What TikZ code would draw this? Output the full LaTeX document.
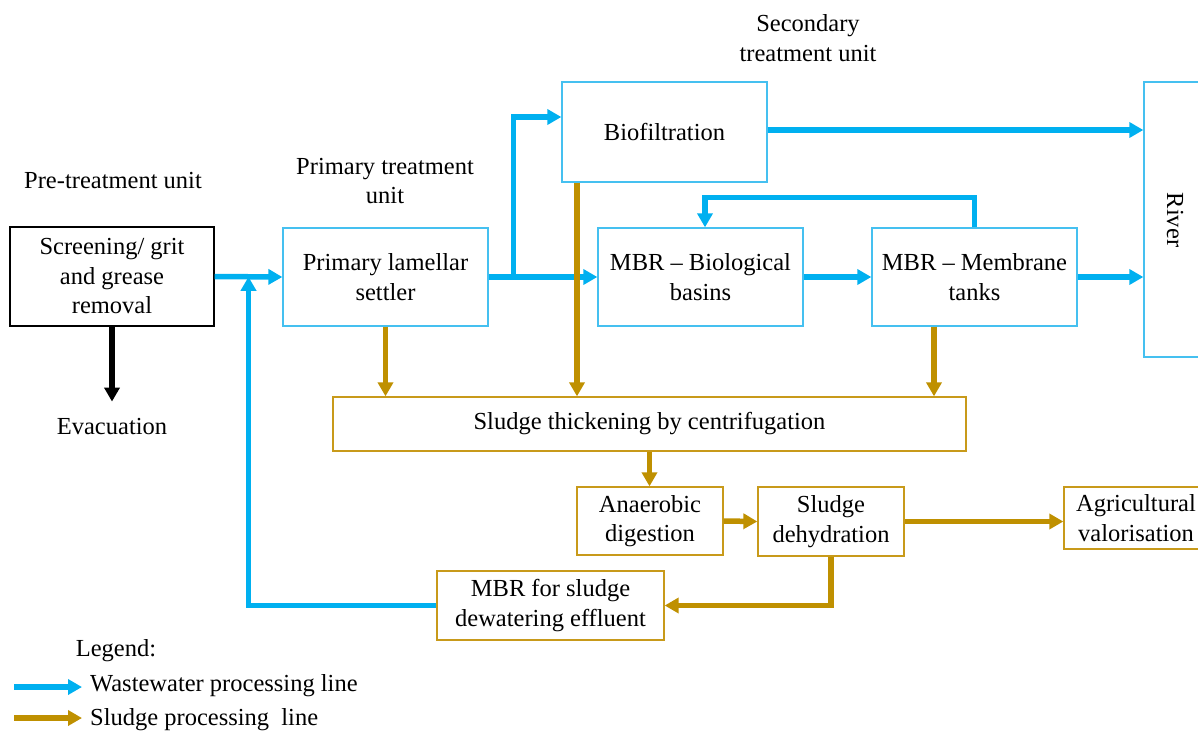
\documentclass[tikz,border=0pt]{standalone}
\usepackage{fontspec}
\setmainfont{Liberation Serif}
\usetikzlibrary{arrows.meta,calc}
\definecolor{wblue}{HTML}{00B0F0}
\definecolor{sgold}{HTML}{BF9000}
\definecolor{bblue}{HTML}{45C0F0}
\definecolor{bgold}{HTML}{C89A1A}
\begin{document}
\begin{tikzpicture}[x=1pt,y=-1pt,
  txt/.style={inner sep=0pt, align=center, font=\fontsize{24.5}{29.5}\selectfont},
  box/.style={txt, draw, line width=1.3pt},
  blackbox/.style={box, draw=black},
  bluebox/.style={box, draw=bblue},
  goldbox/.style={box, draw=bgold},
  warrow/.style={draw=wblue, line width=5.5pt, -{Triangle[length=14pt,width=15pt]}},
  sarrow/.style={draw=sgold, line width=5.5pt, -{Triangle[length=14pt,width=15pt]}},
  barrow/.style={draw=black, line width=5.5pt, -{Triangle[length=14pt,width=15pt]}}
]
\useasboundingbox (0,0) rectangle (1198,731);

% boxes
\node[blackbox, minimum width=204pt, minimum height=99pt] (scr) at (112,276.5) {Screening/ grit\\and grease\\removal};
\node[bluebox, minimum width=205pt, minimum height=98pt] (prim) at (385.5,277) {Primary lamellar\\settler};
\node[bluebox, minimum width=205pt, minimum height=100pt] (biof) at (664.5,132) {Biofiltration};
\node[bluebox, minimum width=205pt, minimum height=98pt] (bio) at (700.5,277) {MBR -- Biological\\basins};
\node[bluebox, minimum width=205pt, minimum height=98pt] (mem) at (974.5,277) {MBR -- Membrane\\tanks};
\node[bluebox, minimum width=66pt, minimum height=275pt] (river) at (1177,219.5) {};
\node[txt, rotate=-90] (rivert) at (1175,220) {River};
\node[goldbox, minimum width=633pt, minimum height=54pt] (thick) at (649.5,424) {Sludge thickening by centrifugation};
\node[goldbox, minimum width=146pt, minimum height=68pt] (an) at (650,521) {Anaerobic\\digestion};
\node[goldbox, minimum width=146pt, minimum height=69pt] (sd) at (831,521.5) {Sludge\\dehydration};
\node[goldbox, minimum width=144pt, minimum height=62pt] (agri) at (1136,518) {Agricultural\\valorisation};
\node[goldbox, minimum width=227pt, minimum height=69pt] (msl) at (550.5,605.5) {MBR for sludge\\dewatering effluent};

% labels
\node[txt] (lpre) at (113,181) {Pre-treatment unit};
\node[txt] (lprim) at (385,181) {Primary treatment\\unit};
\node[txt] (lsec) at (808,38) {Secondary\\treatment unit};
\node[txt] (evac) at (112,427) {Evacuation};
\node[txt] (leg) at (116,651) {Legend:};
\node[txt, anchor=west] (lw) at (90,686) {Wastewater processing line};
\node[txt, anchor=west] (ls) at (90,720) {Sludge processing~ line};

% wastewater line
\draw[warrow] (scr.east) -- (prim.west);
\draw[warrow] (msl.west) -| ($(scr.east)!0.5!(prim.west)$);
\draw[warrow] (prim.east) -- (bio.west);
\coordinate (br) at ($(prim.east)+(25,0)$);
\draw[warrow] (br) |- ($(biof.west)+(0,-15)$);
\draw[warrow] ($(biof.east)+(0,-2)$) -- ($(biof.east -| river.west)+(0,-2)$);
\draw[warrow] (bio.east) -- (mem.west);
\draw[warrow] (mem.east) -- (mem.east -| river.west);
\coordinate (rtop) at ($(mem.north)+(0,-30)$);
\coordinate (rin) at ($(bio.north)+(4.5,0)$);
\draw[warrow] (mem.north) -- (rtop) -| (rin);

% sludge line
\coordinate (g1) at ($(biof.south)+(-87.5,0)$);
\draw[sarrow] (g1) -- (g1 |- thick.north);
\draw[sarrow] (prim.south) -- (prim.south |- thick.north);
\coordinate (g2) at ($(mem.south)+(-40.5,0)$);
\draw[sarrow] (g2) -- (g2 |- thick.north);
\draw[sarrow] (thick.south) -- (thick.south |- an.north);
\draw[sarrow] (an.east) -- (sd.west);
\draw[sarrow] (sd.east) -- (sd.east -| agri.west);
\draw[sarrow] (sd.south) |- (msl.east);

% evacuation
\coordinate (ev) at ($(evac.north)+(0,-17)$);
\draw[barrow] (scr.south) -- (ev);

% legend arrows
\coordinate (lw1) at (14,687);
\coordinate (lw2) at (82,687);
\draw[warrow] (lw1) -- (lw2);
\coordinate (ls1) at (14,718);
\coordinate (ls2) at (82,718);
\draw[sarrow] (ls1) -- (ls2);
\end{tikzpicture}
\end{document}
